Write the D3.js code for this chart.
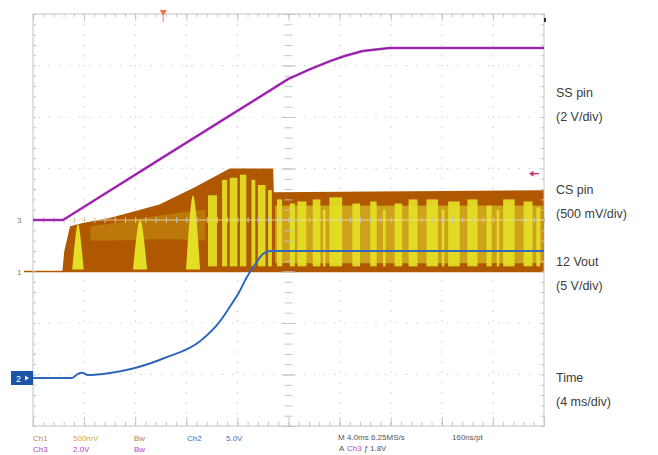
<!DOCTYPE html>
<html>
<head>
<meta charset="utf-8">
<script src="https://cdn.jsdelivr.net/npm/d3@7"></script>
<style>
  body { margin: 0; background: #fff; }
  svg { display: block; font-family: 'Liberation Sans', Arial, sans-serif; }
</style>
</head>
<body>
<svg id="chart" width="658" height="455"></svg>
<script>
// graticule: 10 x 8 divisions, 4 ms/div
const X_DIVS = 10
const Y_DIVS = 8
const MS_PER_DIV = 4

// SS pin (ch3), volts
const ssTimes = [0, 2.35, 11.2, 20, 21.7, 23.25, 24.4, 25.8, 27.9, 40]
const ssVolts = [0, 0, 2.75, 5.48, 5.86, 6.17, 6.37, 6.56, 6.68, 6.68]

// CS pin (ch1) envelope, volts
const csTimes = [2.3, 2.45, 2.9, 3.9, 6.0, 9.9, 12.7, 15.4, 18.8, 18.85, 40]
const csVolts = [0, 0.2, 0.44, 0.47, 0.52, 0.65, 0.82, 1.0, 1.0, 0.77, 0.79]

// CS pin persistence spikes during soft start
const spikeTimes = [3.52, 8.38, 12.53]
const spikeTops = [0.48, 0.52, 0.77]
const spikeBaseHalf = [0.45, 0.55, 0.55]
const spikeTopHalf = [0.1, 0.15, 0.15]

// CS pin olive haze (soft start, then steady switching)
const hazeTimes = [4.5, 7, 10, 13.5]
const hazeLow = [0.3, 0.3, 0.32, 0.3]
const hazeHigh = [0.44, 0.48, 0.55, 0.6]
const glowTimes = [18.95, 39.9]
const glowLow = [0.08, 0.08]
const glowHigh = [0.64, 0.64]

// CS pin bright stripes
const stripeStart = [13.7, 14.8, 15.4, 16.2, 17.1, 17.6, 18.4, 19.1, 20.1, 20.7, 21.9, 22.7, 23.2, 25.0, 26.4, 27.4, 28.3, 29.4, 30.8, 32.0, 32.5, 34.0, 35.5, 36.3, 36.8, 38.4, 39.4]
const stripeEnd = [14.4, 15.2, 16.0, 16.7, 17.4, 18.2, 18.7, 19.5, 20.5, 21.4, 22.5, 22.9, 24.2, 25.6, 26.9, 27.6, 28.9, 30.1, 31.7, 32.2, 33.4, 34.8, 35.9, 36.5, 37.7, 39.1, 39.7]
const stripeTop = [0.74, 0.89, 0.91, 0.94, 0.89, 0.84, 0.79, 0.7, 0.66, 0.68, 0.7, 0.6, 0.72, 0.66, 0.68, 0.6, 0.66, 0.7, 0.7, 0.6, 0.68, 0.7, 0.64, 0.6, 0.7, 0.68, 0.62]
const stripeFloor = 0.05

// 12 Vout (ch2), volts
const voutTimes = [0, 3.05, 3.52, 3.84, 4.3, 6.03, 7.98, 10.3, 13.1, 14.6, 15.5, 16.1, 16.7, 17.4, 18.0, 18.55, 40]
const voutVolts = [0, 0, 0.4, 0.5, 0.29, 0.49, 0.97, 1.94, 3.59, 5.44, 7.09, 8.25, 9.71, 11.07, 12.04, 12.33, 12.33]

const traceLabels = [
  ['SS pin', '(2 V/div)'],
  ['CS pin', '(500 mV/div)'],
  ['12 Vout', '(5 V/div)'],
  ['Time', '(4 ms/div)']
]

class ScopePlotD3 {
  constructor(el, config) {
    this.el = el
    this.config = { ...ScopePlotD3.defaultConfig, ...config }
    this.initScales()
  }
  initScales() {
    const { frame } = this.config
    this.x = d3.scaleLinear().domain([0, X_DIVS * MS_PER_DIV]).range([frame.left, frame.right])
    this.y = d3.scaleLinear().domain([0, Y_DIVS]).range([frame.bottom, frame.top])
  }
  yFor(ch) {
    const c = this.config.channels[ch]
    return v => this.y(c.offset + v / c.voltsPerDiv)
  }
  drawGrid() {
    const { frame, gridColor } = this.config
    const x = this.x, y = this.y
    const g = this.svg.append('g')
    const minorX = x(MS_PER_DIV / 5) - x(0)
    const vLines = d3.range(1, X_DIVS).filter(d => d !== X_DIVS / 2).map(d => d * MS_PER_DIV)
    const hLines = d3.range(1, Y_DIVS).filter(d => d !== Y_DIVS / 2)

    g.selectAll('.vgrid').data(vLines).enter().append('line')
      .attr('x1', d => x(d)).attr('x2', d => x(d))
      .attr('y1', frame.top).attr('y2', frame.bottom)
      .attr('stroke', gridColor).attr('stroke-width', 1.2)
      .attr('stroke-dasharray', '1.5,' + (minorX - 1.5))
    g.selectAll('.hgrid').data(hLines).enter().append('line')
      .attr('x1', frame.left).attr('x2', frame.right)
      .attr('y1', d => y(d)).attr('y2', d => y(d))
      .attr('stroke', gridColor).attr('stroke-width', 1.2)
      .attr('stroke-dasharray', '1.5,' + (minorX - 1.5))
      .attr('stroke-dashoffset', -minorX / 2)
  }
  tickAxis(axis, vals, size, transform) {
    const g = this.svg.append('g')
      .attr('transform', transform)
      .call(axis.tickValues(vals).tickSize(size).tickFormat(''))
    g.select('.domain').remove()
    g.selectAll('line').attr('stroke', this.config.tickColor)
  }
  drawTicks() {
    const { frame, tickColor } = this.config
    const x = this.x, y = this.y
    const minorT = d3.range(0, X_DIVS * MS_PER_DIV + 0.01, MS_PER_DIV / 5)
    const majorT = d3.range(0, X_DIVS * MS_PER_DIV + 0.01, MS_PER_DIV)
    const minorV = d3.range(0, Y_DIVS + 0.01, 0.2)
    const majorV = d3.range(0, Y_DIVS + 0.01, 1)
    const cx = x(X_DIVS * MS_PER_DIV / 2)
    const cy = y(Y_DIVS / 2)

    this.svg.append('rect')
      .attr('x', frame.left).attr('y', frame.top)
      .attr('width', frame.right - frame.left).attr('height', frame.bottom - frame.top)
      .attr('fill', 'none').attr('stroke', tickColor)

    this.tickAxis(d3.axisBottom(x), minorT, 3, `translate(0,${frame.top})`)
    this.tickAxis(d3.axisBottom(x), majorT, 7, `translate(0,${frame.top})`)
    this.tickAxis(d3.axisTop(x), minorT, 4, `translate(0,${frame.bottom})`)
    this.tickAxis(d3.axisTop(x), majorT, 9, `translate(0,${frame.bottom})`)
    this.tickAxis(d3.axisRight(y), minorV, 3, `translate(${frame.left},0)`)
    this.tickAxis(d3.axisLeft(y), minorV, 3, `translate(${frame.right},0)`)
    this.tickAxis(d3.axisBottom(x), minorT, 3, `translate(0,${cy})`)
    this.tickAxis(d3.axisTop(x), minorT, 3, `translate(0,${cy})`)
    this.tickAxis(d3.axisRight(y), minorV, 4, `translate(${cx},0)`)
    this.tickAxis(d3.axisLeft(y), minorV, 4, `translate(${cx},0)`)
    this.tickAxis(d3.axisRight(y), majorV, 7, `translate(${cx},0)`)
    this.tickAxis(d3.axisLeft(y), majorV, 7, `translate(${cx},0)`)
  }
  drawCsPin() {
    const { colors, frame } = this.config
    const x = this.x
    const yc = this.yFor('cs')
    const g = this.svg.append('g')

    // baseline lead-in
    g.append('line')
      .attr('x1', 24).attr('x2', x(csTimes[0]) + 1)
      .attr('y1', yc(0)).attr('y2', yc(0))
      .attr('stroke', colors.csDark).attr('stroke-width', 1.5)

    const env = csTimes.map((t, i) => ({ t, v: csVolts[i] }))
    g.append('path').datum(env)
      .attr('fill', colors.csDark)
      .attr('d', d3.area().x(d => x(d.t)).y0(yc(0) + 0.8).y1(d => yc(d.v)))

    const haze = hazeTimes.map((t, i) => ({ t, lo: hazeLow[i], hi: hazeHigh[i] }))
    g.append('path').datum(haze)
      .attr('fill', colors.csMid).attr('opacity', 0.5)
      .attr('d', d3.area().curve(d3.curveBasis).x(d => x(d.t)).y0(d => yc(d.lo)).y1(d => yc(d.hi)))

    // steady-state switching glow behind the stripes
    g.append('rect')
      .attr('x', x(glowTimes[0]))
      .attr('width', x(glowTimes[1]) - x(glowTimes[0]))
      .attr('y', yc(glowHigh[0]))
      .attr('height', yc(glowLow[0]) - yc(glowHigh[0]))
      .attr('fill', colors.csGlow)

    const spikes = spikeTimes.map((t, i) => [
      { t: t - spikeBaseHalf[i], v: 0.02 },
      { t: t - spikeTopHalf[i], v: spikeTops[i] },
      { t: t + spikeTopHalf[i], v: spikeTops[i] },
      { t: t + spikeBaseHalf[i], v: 0.02 }
    ])
    g.selectAll('.spike').data(spikes).enter().append('path')
      .attr('fill', colors.csBright)
      .attr('d', d3.line().curve(d3.curveBasis).x(d => x(d.t)).y(d => yc(d.v)))

    const stripes = stripeStart.map((s, i) => ({ s, e: stripeEnd[i], top: stripeTop[i] }))
    g.selectAll('.stripe').data(stripes).enter().append('rect')
      .attr('x', d => x(d.s))
      .attr('width', d => x(d.e) - x(d.s))
      .attr('y', d => yc(d.top))
      .attr('height', d => yc(stripeFloor) - yc(d.top))
      .attr('fill', colors.csBright).attr('opacity', 0.92)

    // centre graticule line shows through the persistence
    g.append('line')
      .attr('x1', x(csTimes[1])).attr('x2', frame.right)
      .attr('y1', this.y(Y_DIVS / 2)).attr('y2', this.y(Y_DIVS / 2))
      .attr('stroke', '#f4e4a0').attr('stroke-width', 1).attr('opacity', 0.8)
  }
  drawTrace(times, volts, ch, color, core, width, curve) {
    const x = this.x
    const yc = this.yFor(ch)
    const pts = times.map((t, i) => [x(t), yc(volts[i])])
    const line = d3.line().curve(curve)
    this.svg.append('path').attr('d', line(pts))
      .attr('fill', 'none').attr('stroke', color).attr('stroke-width', width)
      .attr('stroke-linejoin', 'round')
    this.svg.append('path').attr('d', line(pts))
      .attr('fill', 'none').attr('stroke', core).attr('stroke-width', 1).attr('opacity', 0.55)
  }
  drawMarkers() {
    const { colors, frame } = this.config
    const svg = this.svg
    const x = this.x

    // trigger position
    const tx = x(MS_PER_DIV * 2.55)
    svg.append('path')
      .attr('d', `M${tx - 3.5},${frame.top - 4}L${tx + 3.5},${frame.top - 4}L${tx},${frame.top + 2}Z`)
      .attr('fill', colors.trigger)
    svg.append('line')
      .attr('x1', tx).attr('x2', tx).attr('y1', frame.top).attr('y2', frame.top + 8)
      .attr('stroke', colors.trigger).attr('stroke-width', 1.5).attr('opacity', 0.6)

    // trigger level
    const ly = this.yFor('ss')(1.8)
    svg.append('line')
      .attr('x1', frame.right - 14).attr('x2', frame.right - 5).attr('y1', ly).attr('y2', ly)
      .attr('stroke', colors.level).attr('stroke-width', 1.4)
    svg.append('path')
      .attr('d', `M${frame.right - 15},${ly}l4.5,-3l0,6Z`)
      .attr('fill', colors.level)
    svg.append('rect')
      .attr('x', frame.right).attr('y', frame.top + 4).attr('width', 2).attr('height', 4)
      .attr('fill', '#333')

    // channel ground markers
    svg.append('text').attr('x', 17).attr('y', this.yFor('ss')(0) + 3)
      .attr('font-size', 8).attr('fill', '#8c7a96').text('3')
    svg.append('text').attr('x', 17).attr('y', this.yFor('cs')(0) + 3)
      .attr('font-size', 8).attr('fill', '#8c7a6a').text('1')

    const gy = this.yFor('vout')(0)
    svg.append('rect').attr('x', 11).attr('y', gy - 7).attr('width', 22).attr('height', 14)
      .attr('fill', colors.voutBox)
    svg.append('text').attr('x', 16).attr('y', gy + 3.5)
      .attr('font-size', 9).attr('fill', '#fff').text('2')
    svg.append('path').attr('d', `M${29},${gy}l-4,-2.5l0,5Z`).attr('fill', '#fff')
  }
  drawLabels() {
    const svg = this.svg
    const ys = [97, 194, 266, 382]
    traceLabels.forEach((pair, i) => {
      svg.append('text').attr('x', 556).attr('y', ys[i])
        .attr('font-size', 12.5).attr('fill', '#3c3c3c').text(pair[0])
      svg.append('text').attr('x', 556).attr('y', ys[i] + 24)
        .attr('font-size', 12.5).attr('fill', '#3c3c3c').text(pair[1])
    })

    const info = [
      { x: 33, y: 441, t: 'Ch1', c: '#c8862e' },
      { x: 73, y: 441, t: '500mV', c: '#dca246' },
      { x: 134, y: 441, t: 'Bw', c: '#c08240' },
      { x: 187, y: 441, t: 'Ch2', c: '#3f6fc2' },
      { x: 226, y: 441, t: '5.0V', c: '#3f6fc2' },
      { x: 338, y: 440, t: 'M 4.0ms 6.25MS/s', c: '#555' },
      { x: 452, y: 440, t: '160ns/pt', c: '#555' },
      { x: 33, y: 452, t: 'Ch3', c: '#b444c4' },
      { x: 73, y: 452, t: '2.0V', c: '#b444c4' },
      { x: 134, y: 452, t: 'Bw', c: '#b444c4' },
      { x: 339, y: 451, t: 'A', c: '#555' },
      { x: 347, y: 451, t: 'Ch3', c: '#b444c4' },
      { x: 364, y: 451, t: 'ƒ', c: '#555' },
      { x: 370, y: 451, t: '1.8V', c: '#555' }
    ]
    svg.selectAll('.info').data(info).enter().append('text')
      .attr('x', d => d.x).attr('y', d => d.y)
      .attr('font-size', 8).attr('fill', d => d.c)
      .text(d => d.t)
  }
  draw() {
    const { colors } = this.config
    this.svg = d3.select(this.el)
    this.drawGrid()
    this.drawCsPin()
    this.drawTicks()
    this.drawTrace(ssTimes, ssVolts, 'ss', colors.ss, colors.ssCore, 2.6, d3.curveLinear)
    this.drawTrace(voutTimes, voutVolts, 'vout', colors.vout, colors.voutCore, 2, d3.curveMonotoneX)
    this.drawMarkers()
    this.drawLabels()
  }
}

ScopePlotD3.defaultConfig = {
  frame: { left: 33, right: 544, top: 14, bottom: 426 },
  channels: {
    ss: { offset: 4, voltsPerDiv: 2 },
    cs: { offset: 3, voltsPerDiv: 0.5 },
    vout: { offset: 0.932, voltsPerDiv: 5 }
  },
  gridColor: '#cfcfcf',
  tickColor: '#c4c4c4',
  colors: {
    ss: '#b232c4',
    ssCore: '#5c0f6c',
    csDark: '#b05800',
    csMid: '#c89a14',
    csGlow: '#cfa21c',
    csBright: '#e4df24',
    vout: '#3a78d4',
    voutCore: '#16407e',
    voutBox: '#1c55a8',
    trigger: '#f07048',
    level: '#c03a78'
  }
}

new ScopePlotD3(document.getElementById('chart')).draw()
</script>
</body>
</html>
